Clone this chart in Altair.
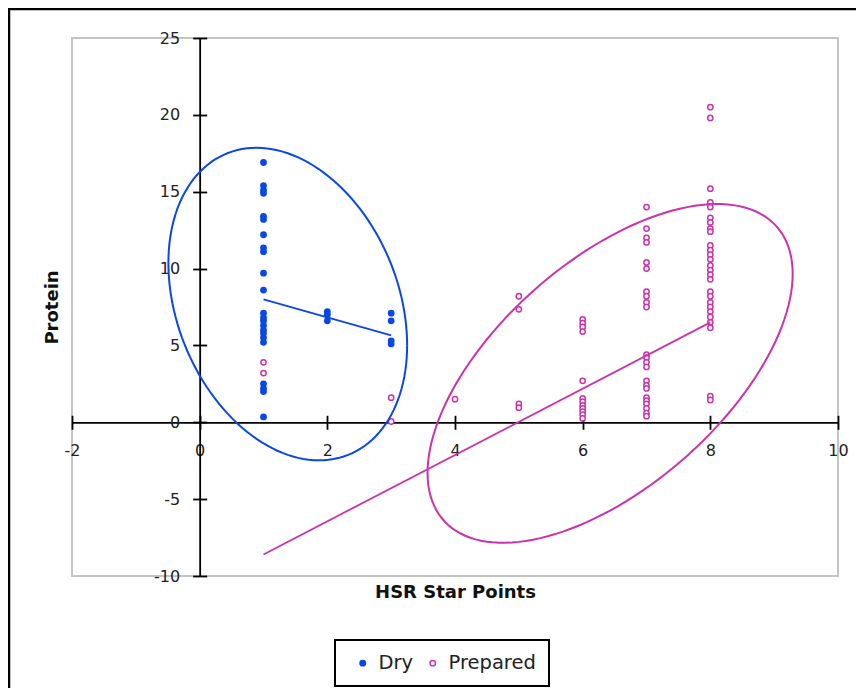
import altair as alt
import numpy as np
import pandas as pd

# ---- data ----
dry_x = [1] * 23 + [2] * 3 + [3] * 4
dry_y = [16.9, 15.4, 15.1, 14.9, 13.4, 13.2, 12.2, 11.35, 11.1, 9.7, 8.6,
         7.1, 6.8, 6.6, 6.3, 6.0, 5.8, 5.5, 5.2, 2.5, 2.2, 2.0, 0.35,
         7.2, 7.0, 6.6,
         7.1, 6.6, 5.3, 5.1]

prep_x = ([1] * 2 + [3] * 2 + [4] * 1 + [5] * 4 + [6] * 12 + [7] * 23 + [8] * 27)
prep_y = [3.9, 3.2,
          1.6, 0.05,
          1.5,
          8.2, 7.35, 1.2, 0.95,
          6.7, 6.45, 6.2, 5.9, 2.7, 1.55, 1.35, 1.1, 0.9, 0.7, 0.5, 0.25,
          14.0, 12.6, 12.0, 11.7, 10.4, 10.0, 8.5, 8.2, 7.8, 7.5, 4.4, 4.2, 3.9,
          3.6, 2.7, 2.4, 2.2, 1.6, 1.4, 1.2, 0.9, 0.6, 0.4,
          20.5, 19.8, 15.2, 14.3, 14.0, 13.3, 13.0, 12.6, 12.4, 11.5, 11.2, 10.9,
          10.6, 10.2, 9.9, 9.6, 9.3, 8.5, 8.2, 7.8, 7.5, 7.2, 6.85, 6.5, 6.15,
          1.7, 1.45]

series_names = ["Dry", "Prepared"]
series_colors = ["#0a48e6", "#cc33aa"]

# linear trend lines (end points)
dry_trend_x = [1, 3]
dry_trend_y = [8.0, 5.65]
prep_trend_x = [1, 8]
prep_trend_y = [-8.6, 6.5]

# hand-drawn ovals: centre, x-radius, y components
oval_names = ["Dry", "Prepared"]
oval_cx = [1.38, 6.43]
oval_ax = [1.87, 2.86]
oval_cy = [7.69, 3.18]
oval_dc = [-2.67, 6.47]
oval_ds = [9.81, 8.92]

x_ticks = [-2, 0, 2, 4, 6, 8, 10]
y_ticks = [-10, -5, 0, 5, 10, 15, 20, 25]
x_dom = [-2, 10]
y_dom = [-10, 25]

# ---- layout ----
W, H = 766, 538
x0_px = W * (0 - x_dom[0]) / (x_dom[1] - x_dom[0])
y0_px = H * (y_dom[1] - 0) / (y_dom[1] - y_dom[0])

FONT = "DejaVu Sans"
PLAIN = "datum.value + ''"

pts = pd.DataFrame({
    "x": dry_x + prep_x,
    "y": dry_y + prep_y,
    "series": ["Dry"] * len(dry_x) + ["Prepared"] * len(prep_x),
})

xs = alt.Scale(domain=x_dom, nice=False, zero=False)
ys = alt.Scale(domain=y_dom, nice=False, zero=False)

main_x_axis = alt.Axis(values=x_ticks, orient="bottom", offset=-(H - y0_px), grid=False,
                       title="HSR Star Points", titleY=170, titleBaseline="middle",
                       domainColor="black", domainWidth=1.8, tickColor="black", tickWidth=1.8,
                       tickSize=7, labelPadding=13, labelFlush=False, labelExpr=PLAIN)
main_y_axis = alt.Axis(values=y_ticks, orient="left", offset=-x0_px, grid=False,
                       title="Protein", titleX=-147, titleBaseline="middle",
                       domainColor="black", domainWidth=1.8, tickColor="black", tickWidth=1.8,
                       tickSize=7, labelPadding=13, labelExpr=PLAIN)

points = alt.Chart(pts).mark_point(filled=False, size=28, strokeWidth=1.5, opacity=1).encode(
    x=alt.X("x:Q", scale=xs, axis=main_x_axis),
    y=alt.Y("y:Q", scale=ys, axis=main_y_axis),
    fill=alt.Fill("series:N", scale=alt.Scale(domain=series_names, range=[series_colors[0], "white"]),
                  legend=alt.Legend(title=None)),
    stroke=alt.Stroke("series:N", scale=alt.Scale(domain=series_names, range=series_colors),
                      legend=alt.Legend(title=None)),
)

# cross ticks: mirror axes carrying only ticks
dry_tr = pd.DataFrame({"x": dry_trend_x, "y": dry_trend_y})
dry_line = alt.Chart(dry_tr).mark_line(color=series_colors[0], strokeWidth=1.8).encode(
    x=alt.X("x:Q", scale=xs, axis=alt.Axis(values=x_ticks, orient="top", offset=-y0_px, grid=False,
                                            labels=False, domain=False, title=None,
                                            tickColor="black", tickWidth=1.8, tickSize=7)),
    y=alt.Y("y:Q", scale=ys, axis=alt.Axis(values=y_ticks, orient="right", offset=-(W - x0_px),
                                            grid=False, labels=False, domain=False, title=None,
                                            tickColor="black", tickWidth=1.8, tickSize=7)),
)

prep_tr = pd.DataFrame({"x": prep_trend_x, "y": prep_trend_y})
prep_line = alt.Chart(prep_tr).mark_line(color=series_colors[1], strokeWidth=1.8).encode(
    x=alt.X("x:Q", scale=xs, axis=None),
    y=alt.Y("y:Q", scale=ys, axis=None),
)

ovals = []
t = np.linspace(0, 2 * np.pi, 145)
for i, name in enumerate(oval_names):
    df = pd.DataFrame({
        "i": np.arange(len(t)),
        "x": oval_cx[i] + oval_ax[i] * np.cos(t),
        "y": oval_cy[i] + oval_dc[i] * np.cos(t) + oval_ds[i] * np.sin(t),
    })
    ovals.append(
        alt.Chart(df).mark_line(color=series_colors[i], strokeWidth=2).encode(
            x=alt.X("x:Q", scale=xs, axis=None),
            y=alt.Y("y:Q", scale=ys, axis=None),
            order="i:Q",
        )
    )

border = alt.Chart(pd.DataFrame({"a": [1]})).mark_rect(
    filled=False, stroke="black", strokeWidth=2.5
).encode(
    x=alt.value(-63), x2=alt.value(W + 200), y=alt.value(-29), y2=alt.value(H + 400)
)

chart = alt.layer(points, dry_line, prep_line, *ovals, border).resolve_axis(
    x="independent", y="independent"
).properties(
    width=W, height=H,
    autosize=alt.AutoSizeParams(type="none"),
    padding={"left": 64, "top": 30, "right": 18, "bottom": 112},
).configure_view(
    stroke="#c4c4c4", strokeWidth=2
).configure_axis(
    labelFont=FONT, labelFontSize=16, labelColor="#222222",
    titleFont=FONT, titleFontSize=18, titleFontWeight="bold", titleColor="#111111",
).configure_legend(
    orient="none", legendX=263, legendY=602, direction="horizontal",
    strokeColor="black", strokeWidth=2, padding=13, symbolOffset=5,
    labelOffset=6, columnPadding=4, labelFont=FONT, labelFontSize=19.5,
    labelColor="#222222", symbolStrokeWidth=1.5, symbolSize=30,
)

chart.save("out.html", embed_options={"renderer": "svg", "actions": False})
